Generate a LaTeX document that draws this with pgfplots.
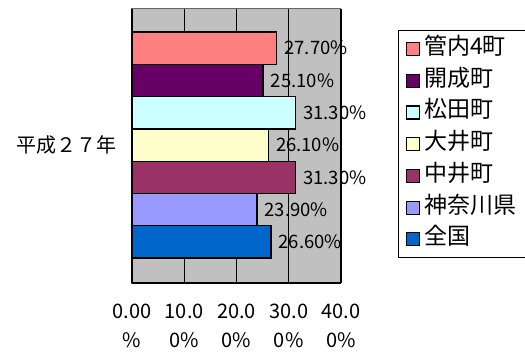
\documentclass[border=0pt]{standalone}
\usepackage{pgfplots}
\pgfplotsset{compat=1.18}
\usepackage{fontspec}
\setmainfont{Noto Sans CJK JP}
\definecolor{c1}{HTML}{FF8080}
\definecolor{c2}{HTML}{660066}
\definecolor{c3}{HTML}{CCFFFF}
\definecolor{c4}{HTML}{FFFFCC}
\definecolor{c5}{HTML}{993366}
\definecolor{c6}{HTML}{9999FF}
\definecolor{c7}{HTML}{0066CC}
\definecolor{bg}{HTML}{C0C0C0}
\begin{document}
\begin{tikzpicture}
\path[use as bounding box] (-132pt,-68pt) rectangle (393pt,283pt);
\begin{axis}[
  at={(0pt,0pt)}, anchor=south west,
  scale only axis, width=209pt, height=274pt,
  xmin=0, xmax=40, ymin=-1.27, ymax=7.21,
  axis x line*=bottom, axis y line*=left,
  axis line style={black, line width=1.4pt, -},
  axis background/.style={fill=bg, draw=gray!80!black, line width=1pt},
  xtick={0,10,20,30,40},
  xticklabels={{0.00\\\%},{10.0\\0\%},{20.0\\0\%},{30.0\\0\%},{40.0\\0\%}},
  xticklabel style={align=center, font=\fontsize{20}{29}\selectfont, yshift=-17pt},
  ytick={3}, yticklabels={平成２７年},
  yticklabel style={font=\fontsize{20}{24}\selectfont, xshift=-12pt},
  major tick length=0pt,
  xmajorgrids, grid style={black, line width=1.4pt},
  xbar, bar shift=0pt, bar width=1,
  every axis plot/.append style={draw=black, line width=1.3pt},
  nodes near coords={\pgfmathprintnumber[fixed,fixed zerofill,precision=2,assume math mode=true]{\pgfplotspointmeta}\%},
  nodes near coords style={anchor=west, font=\fontsize{18.5}{22}\selectfont, black, inner xsep=7pt},
  legend style={at={(1.273,0.923)}, anchor=north west, draw=black, line width=1pt,
    font=\fontsize{23}{27}\selectfont, row sep=8.7pt, inner xsep=7pt, inner ysep=7pt,
    nodes={inner ysep=0pt, text height=17pt, text depth=6pt, inner xsep=4.5pt}},
  legend cell align=left,
  legend image code/.code={\draw[#1, line width=1.1pt] (0pt,-6.5pt) rectangle (13pt,6.5pt);},
]
\addplot[fill=c1] coordinates {(27.7,6)};
\addlegendentry{管内4町}
\addplot[fill=c2] coordinates {(25.1,5)};
\addlegendentry{開成町}
\addplot[fill=c3] coordinates {(31.3,4)};
\addlegendentry{松田町}
\addplot[fill=c4] coordinates {(26.1,3)};
\addlegendentry{大井町}
\addplot[fill=c5] coordinates {(31.3,2)};
\addlegendentry{中井町}
\addplot[fill=c6] coordinates {(23.9,1)};
\addlegendentry{神奈川県}
\addplot[fill=c7] coordinates {(26.6,0)};
\addlegendentry{全国}
\end{axis}
\end{tikzpicture}
\end{document}
